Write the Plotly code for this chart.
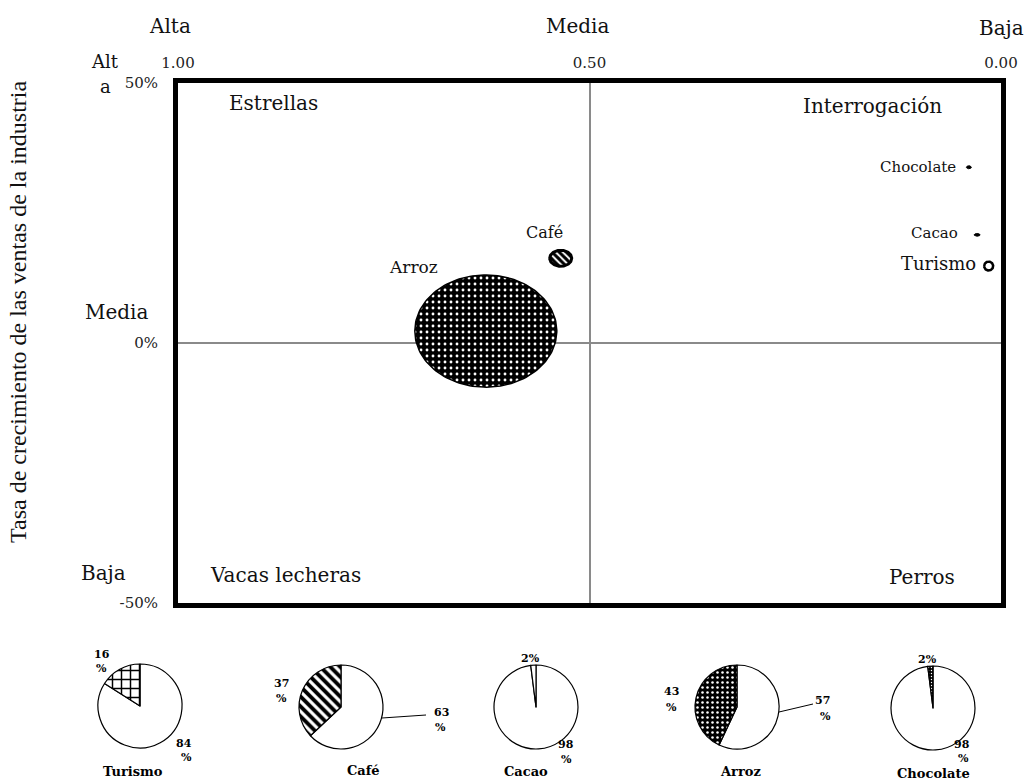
import numpy as np
import plotly.graph_objects as go

W, H = 1034, 780

# ---------------- data ----------------
productos = ["Arroz", "Café", "Turismo", "Cacao", "Chocolate"]
participacion_relativa = [0.626, 0.535, 0.015, 0.029, 0.039]   # x (1.00 -> 0.00)
crecimiento = [2.3, 16.3, 14.8, 20.8, 33.8]                     # y (%)
tamano_burbuja = [71, 11, 4.5, 3, 2.5]                          # bubble radius (relative sales)

x_ticks = [1.0, 0.5, 0.0]
x_ticktext = ["1.00", "0.50", "0.00"]
y_ticks = [50, 0, -50]
y_ticktext = ["50%", "0%", "-50%"]

pie_nombres = ["Turismo", "Café", "Cacao", "Arroz", "Chocolate"]
pie_parte = [16, 37, 2, 43, 2]
pie_resto = [84, 63, 98, 57, 98]

# ---------------- layout helpers ----------------
FX0, FX1, FY0, FY1 = 178, 1001, 83, 603   # frame in px
PX_X = (FX1 - FX0) / 1.0
PX_Y = (FY1 - FY0) / 100.0


def px(x):
    return x / W


def py(y):
    return 1 - y / H


SERIF = "DejaVu Serif"
fig = go.Figure()

# ---------------- bubbles ----------------
bub_style = {
    "Arroz": dict(aspect=0.79, fill="black", line=1.5,
                  pattern=dict(shape=".", fgcolor="white", bgcolor="black", size=6,
                               solidity=0.18, fillmode="overlay", fgopacity=1)),
    "Café": dict(aspect=0.73, fill="white", line=3,
                 pattern=dict(shape="\\", fgcolor="black", bgcolor="white", size=5,
                              solidity=0.6, fillmode="overlay", fgopacity=1)),
    "Turismo": dict(aspect=1.0, fill="white", line=2.5, pattern=None),
    "Cacao": dict(aspect=0.45, fill="black", line=1, pattern=None),
    "Chocolate": dict(aspect=0.6, fill="black", line=1, pattern=None),
}
lab_style = {
    "Arroz": dict(xs=-72, ys=64, anchor="center", size=17),
    "Café": dict(xs=-16, ys=26, anchor="center", size=16),
    "Turismo": dict(xs=-11, ys=3, anchor="right", size=18),
    "Cacao": dict(xs=-17, ys=2, anchor="right", size=15),
    "Chocolate": dict(xs=-11, ys=0, anchor="right", size=15),
}

t = np.linspace(0, 2 * np.pi, 160)
for name, cx, cy, r in zip(productos, participacion_relativa, crecimiento, tamano_burbuja):
    st = bub_style[name]
    xs = cx + (r / PX_X) * np.cos(t)
    ys = cy + (r * st["aspect"] / PX_Y) * np.sin(t)
    kw = {}
    if st["pattern"] is not None:
        kw["fillpattern"] = st["pattern"]
    fig.add_trace(go.Scatter(x=xs, y=ys, mode="lines", fill="toself",
                             fillcolor=st["fill"], line=dict(color="black", width=st["line"]),
                             showlegend=False, hoverinfo="skip", **kw))
    ls = lab_style[name]
    fig.add_annotation(x=cx, y=cy, xref="x", yref="y", text=name, showarrow=False,
                       xanchor=ls["anchor"], yanchor="middle", xshift=ls["xs"], yshift=ls["ys"],
                       font=dict(family=SERIF, size=ls["size"], color="#111"))

# ---------------- pies ----------------
pie_centros = [(140, 706), (341, 707), (536, 707), (737, 707), (933, 708)]
PIE_R = 42
pie_pat = [
    dict(shape="+", fg="black", bg="white", size=9, sol=0.3),
    dict(shape="\\", fg="black", bg="white", size=7, sol=0.55),
    dict(shape="", fg="black", bg="white", size=6, sol=0.3),
    dict(shape=".", fg="white", bg="black", size=5, sol=0.2),
    dict(shape=".", fg="white", bg="black", size=3, sol=0.2),
]
for (cx, cy), a, b, p in zip(pie_centros, pie_parte, pie_resto, pie_pat):
    # white remainder first, clockwise, so the highlighted share lies left of 12 o'clock
    fig.add_trace(go.Pie(
        values=[b, a], labels=["resto", "parte"], sort=False, direction="clockwise",
        rotation=0, textinfo="none", hoverinfo="skip", showlegend=False,
        domain=dict(x=[px(cx - PIE_R), px(cx + PIE_R)], y=[py(cy + PIE_R), py(cy - PIE_R)]),
        marker=dict(colors=["white", p["bg"]], line=dict(color="black", width=1.2),
                    pattern=dict(shape=["", p["shape"]], fgcolor=["black", p["fg"]],
                                 size=p["size"], solidity=p["sol"], fillmode="overlay",
                                 fgopacity=1)),
    ))

# pie labels: (number pos, percent-sign pos) for highlighted share and remainder
pie_lab_pos = [
    (((102, 654), (101, 668)), ((184, 743), (186, 757))),
    (((281, 683), (281, 698)), ((441, 712), (440, 727))),
    (((530, 658), None), ((566, 744), (566, 759))),
    (((671, 691), (671, 707)), ((822, 700), (825, 716))),
    (((927, 659), None), ((962, 744), (963, 758))),
]
pie_name_pos = [(133, 771), (363, 770), (526, 771), (740, 771), (933, 773)]


def small(text, x, y, size=11):
    fig.add_annotation(x=px(x), y=py(y), xref="paper", yref="paper", text=text,
                       showarrow=False, xanchor="center", yanchor="middle",
                       font=dict(family=SERIF, size=size, color="black", weight="bold"))


for i, (nm, a, b) in enumerate(zip(pie_nombres, pie_parte, pie_resto)):
    for val, (pnum, ppct) in zip((a, b), pie_lab_pos[i]):
        if ppct is None:
            small(f"{val}%", *pnum)
        else:
            small(f"{val}", *pnum)
            small("%", *ppct)
    small(nm, *pie_name_pos[i], size=13)

# leader lines
for (x0, y0, x1, y1) in [(382, 718, 426, 715), (779, 712, 813, 704)]:
    fig.add_shape(type="line", xref="paper", yref="paper", x0=px(x0), y0=py(y0),
                  x1=px(x1), y1=py(y1), line=dict(color="black", width=1))

# ---------------- text labels ----------------
def lab(text, x, y, size=20, family=SERIF, anchor="center", angle=0):
    fig.add_annotation(x=px(x), y=py(y), xref="paper", yref="paper", text=text,
                       showarrow=False, xanchor=anchor, yanchor="middle", textangle=angle,
                       font=dict(family=family, size=size, color="#111"))

lab("Alta", 170, 26)
lab("Media", 578, 26)
lab("Baja", 1001, 28)
lab("Alt", 105, 62, size=18)
lab("a", 105, 86, size=18)
lab("Media", 117, 312)
lab("Baja", 103, 573)
lab("Estrellas", 273, 103)
lab("Interrogación", 872, 106)
lab("Vacas lecheras", 285, 575)
lab("Perros", 922, 577)
lab("Tasa de crecimiento de las ventas de la industria", 18, 312, size=24,
    family="Liberation Serif", angle=-90)

# ---------------- axes ----------------
fig.update_layout(
    width=W, height=H, margin=dict(l=0, r=0, t=0, b=0),
    paper_bgcolor="white", plot_bgcolor="white",
    xaxis=dict(domain=[px(FX0), px(FX1)], range=[1, 0], side="top", automargin=False,
               tickvals=x_ticks, ticktext=x_ticktext, ticks="", ticklabelstandoff=4,
               tickfont=dict(family=SERIF, size=15, color="#222"),
               showgrid=True, gridcolor="#8a8a8a", gridwidth=2, zeroline=False,
               showline=True, linecolor="black", linewidth=5, mirror=True, fixedrange=True),
    yaxis=dict(domain=[py(FY1), py(FY0)], range=[-50, 50], automargin=False,
               tickvals=y_ticks, ticktext=y_ticktext, ticks="", ticklabelstandoff=12,
               tickfont=dict(family=SERIF, size=15, color="#222"),
               showgrid=True, gridcolor="#8a8a8a", gridwidth=2, zeroline=False,
               showline=True, linecolor="black", linewidth=5, mirror=True, fixedrange=True),
)

fig.write_html("out.html")
